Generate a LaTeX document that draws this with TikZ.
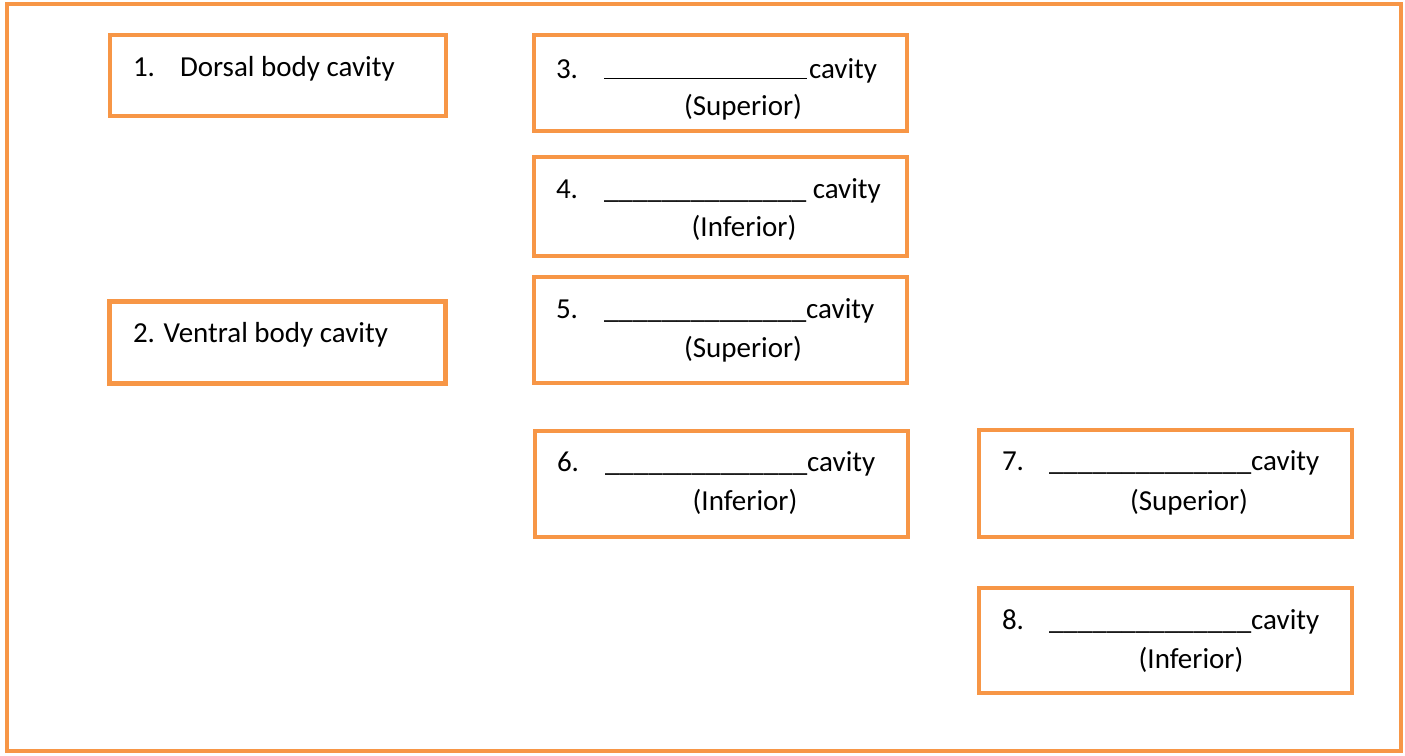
\documentclass[tikz,border=0pt]{standalone}
\usepackage{fontspec}
\setmainfont{Carlito}
\definecolor{boxorange}{HTML}{F79646}
\begin{document}
\begin{tikzpicture}[x=1pt,y=-1pt,
  frame/.style={draw=boxorange,line width=4pt},
  box/.style={draw=boxorange,line width=4.5pt,rectangle,inner sep=0pt,outer sep=0pt},
  txt/.style={anchor=base west,inner sep=0pt,outer sep=0pt,font=\fontsize{29}{35}\selectfont},
  ctxt/.style={anchor=base,inner sep=0pt,outer sep=0pt,font=\fontsize{29}{35}\selectfont}]
\useasboundingbox (0,0) rectangle (1405,755);
\draw[frame] (7,4) rectangle (1401,751);
% boxes
\node[box,minimum width=336pt,minimum height=81pt] (b1) at (278,75.5) {};
\node[box,minimum width=336pt,minimum height=82pt] (b2) at (277.5,342.5) {};
\node[box,minimum width=373pt,minimum height=96pt] (b3) at (720.5,83) {};
\node[box,minimum width=373pt,minimum height=99pt] (b4) at (720.5,206.5) {};
\node[box,minimum width=373pt,minimum height=106pt] (b5) at (720.5,330) {};
\node[box,minimum width=373pt,minimum height=106pt] (b6) at (721.5,484) {};
\node[box,minimum width=373pt,minimum height=107pt] (b7) at (1165.5,483.5) {};
\node[box,minimum width=373pt,minimum height=105pt] (b8) at (1165.5,640.5) {};
% texts
\node[txt] (n1) at (133,76) {1.};
\node[txt] (t1) at (180,76) {Dorsal body cavity};
\node[txt] (t2) at (133,342) {2. Ventral body cavity};

\node[txt] (n3) at (556,78) {3.};
\draw[line width=1.6pt] (604,78.5) -- (807,78.5);
\node[txt] (c3) at (809,78) {cavity};
\node[ctxt] (s3) at (743,115) {(Superior)};

\node[txt] (n4) at (556,198) {4.};
\node[txt] (u4) at (604,198) {\_\_\_\_\_\_\_\_\_\_\_\_\_\_ cavity};
\node[ctxt] (s4) at (744,236) {(Inferior)};

\node[txt] (n5) at (556,318) {5.};
\node[txt] (u5) at (604,318) {\_\_\_\_\_\_\_\_\_\_\_\_\_\_cavity};
\node[ctxt] (s5) at (743,357) {(Superior)};

\node[txt] (n6) at (557,471) {6.};
\node[txt] (u6) at (605,471) {\_\_\_\_\_\_\_\_\_\_\_\_\_\_cavity};
\node[ctxt] (s6) at (745,510) {(Inferior)};

\node[txt] (n7) at (1002,470) {7.};
\node[txt] (u7) at (1049,470) {\_\_\_\_\_\_\_\_\_\_\_\_\_\_cavity};
\node[ctxt] (s7) at (1189,510) {(Superior)};

\node[txt] (n8) at (1002,629) {8.};
\node[txt] (u8) at (1049,629) {\_\_\_\_\_\_\_\_\_\_\_\_\_\_cavity};
\node[ctxt] (s8) at (1191,668) {(Inferior)};
\end{tikzpicture}
\end{document}
